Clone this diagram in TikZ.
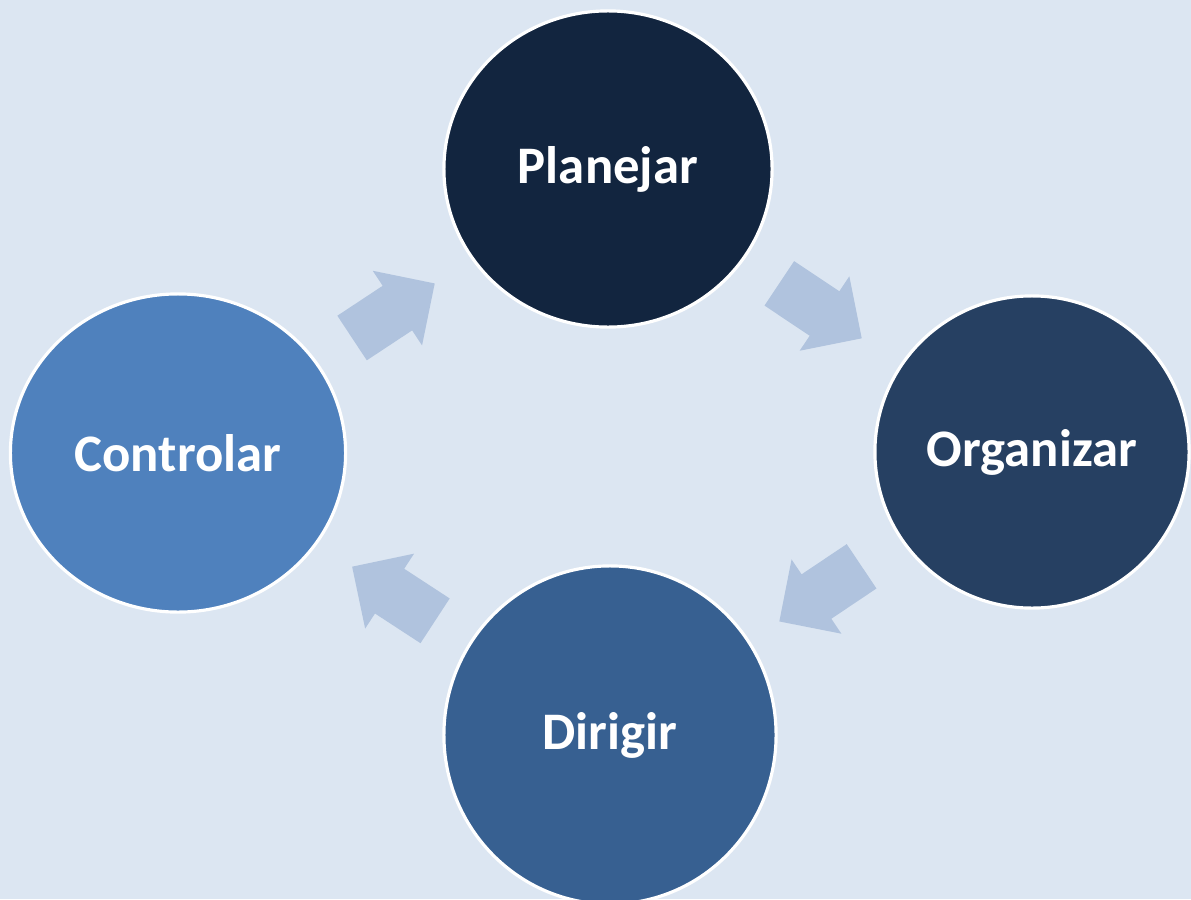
\documentclass[tikz,border=0pt]{standalone}
\usepackage{fontspec}
\setmainfont{Carlito}
\usetikzlibrary{shapes.geometric,shapes.arrows}
\definecolor{pagebg}{HTML}{DCE6F2}
\definecolor{flowblue}{HTML}{B0C3DE}
\definecolor{planc}{HTML}{12253F}
\definecolor{orgc}{HTML}{264062}
\definecolor{dirc}{HTML}{376091}
\definecolor{ctrlc}{HTML}{4F81BD}
\tikzset{
    stage/.style={ellipse,draw=white,line width=0.9pt,inner sep=0pt,
        text=white,font=\fontsize{15}{18}\selectfont\bfseries},
    flow/.style={single arrow,fill=flowblue,draw=none,inner xsep=0pt,inner ysep=0.26cm,
        minimum height=0.99cm,
        single arrow head extend=0.18cm,single arrow tip angle=90},
}
\begin{document}
\begin{tikzpicture}[x=0.01cm,y=0.01cm]
        %% Page
        \useasboundingbox (0,0) rectangle (1191,899);
        \clip (0,0) rectangle (1191,899);
        \fill[pagebg] (0,0) rectangle (1191,899);
        %% Stages of the cycle
        \node[stage,fill=planc,minimum width=3.28cm,minimum height=3.16cm] (plan) at (608,730) {Planejar};
        \node[stage,fill=orgc,minimum width=3.14cm,minimum height=3.12cm] (org) at (1032,447) {Organizar};
        \node[stage,fill=dirc,minimum width=3.32cm,minimum height=3.38cm] (dir) at (610,164) {Dirigir};
        \node[stage,fill=ctrlc,minimum width=3.35cm,minimum height=3.18cm] (ctrl) at (178,446) {Controlar};
        %% Arrows between the stages
        \foreach \a/\b in {ctrl/plan, plan/org, org/dir, dir/ctrl} {
            \path (\a.center) -- (\b.center) node[flow,pos=0.475,sloped,allow upside down] {};
        }
\end{tikzpicture}
\end{document}
